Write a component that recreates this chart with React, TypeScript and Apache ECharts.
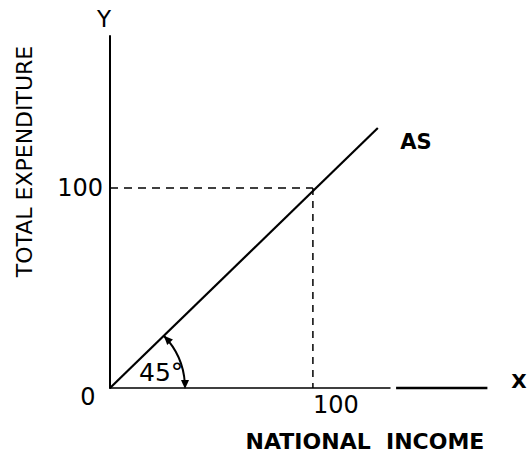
import React, { useEffect, useRef } from "react";
import * as echarts from "echarts";

// Data
const asLine: number[][] = [[0, 0], [132, 130]];
const hDashed: number[][] = [[0, 100], [100, 100]];
const vDashed: number[][] = [[100, 100], [100, 0]];
const xExtension: number[][] = [[141, 0], [186, 0]];
const xTickLabels = ["100"];
const yTickLabels = ["100"];
const xMax = 138;
const yMax = 176;

const FONT = "'DejaVu Sans', 'Liberation Sans', Arial, sans-serif";

export default function App() {
  const ref = useRef<HTMLDivElement>(null);
  useEffect(() => {
    if (!ref.current) return;
    const chart = echarts.init(ref.current, undefined, { renderer: "svg" });
    const asEnd = asLine[asLine.length - 1];
    chart.setOption({
      animation: false,
      backgroundColor: "#fff",
      grid: { left: 110, right: 138, top: 36, bottom: 66 },
      xAxis: {
        type: "value",
        min: 0,
        max: xMax,
        interval: 100,
        axisLine: { show: true, onZero: false, lineStyle: { color: "#000", width: 1.5 } },
        axisTick: { show: false },
        splitLine: { show: false },
        axisLabel: {
          formatter: (v: number) => (xTickLabels.includes(String(v)) ? String(v) : ""),
          align: "left",
          fontSize: 24,
          fontFamily: FONT,
          color: "#000",
          margin: 5,
          showMaxLabel: false,
        },
      },
      yAxis: {
        type: "value",
        min: 0,
        max: yMax,
        interval: 100,
        axisLine: { show: true, onZero: false, lineStyle: { color: "#000", width: 2 } },
        axisTick: { show: false },
        splitLine: { show: false },
        axisLabel: {
          formatter: (v: number) => (yTickLabels.includes(String(v)) ? String(v) : ""),
          fontSize: 24,
          fontFamily: FONT,
          color: "#000",
          margin: 7,
          showMaxLabel: false,
        },
      },
      series: [
        {
          type: "line",
          data: asLine,
          symbol: "none",
          lineStyle: { color: "#000", width: 2.2 },
        },
        {
          type: "line",
          data: hDashed,
          symbol: "none",
          lineStyle: { color: "#000", width: 1.5, type: [8, 6] },
        },
        {
          type: "line",
          data: vDashed,
          symbol: "none",
          lineStyle: { color: "#000", width: 1.5, type: [7, 6] },
        },
        {
          type: "custom",
          data: [xExtension[0]],
          clip: false,
          renderItem: (params: any, api: any) => {
            const a = api.coord(xExtension[0]);
            const b = api.coord(xExtension[1]);
            return {
              type: "line",
              shape: { x1: a[0], y1: a[1], x2: b[0], y2: b[1] },
              style: { stroke: "#000", lineWidth: 2.5 },
            };
          },
        },
        {
          type: "custom",
          data: [asLine[0]],
          clip: false,
          renderItem: (params: any, api: any) => {
            const o = api.coord(asLine[0]);
            const p = api.coord(asEnd);
            const ang = Math.atan2(p[1] - o[1], p[0] - o[0]);
            const r = 75;
            const lt = [o[0] + r, o[1] + 1];
            const ut = [o[0] + r * Math.cos(ang), o[1] + r * Math.sin(ang)];
            const d = [Math.sin(ang), -Math.cos(ang)];
            const n = [Math.cos(ang), Math.sin(ang)];
            const L = 9, W = 4;
            return {
              type: "group",
              children: [
                {
                  type: "arc",
                  shape: { cx: o[0], cy: o[1], r, startAngle: ang, endAngle: -0.06, clockwise: true },
                  style: { stroke: "#000", lineWidth: 2, fill: null },
                },
                {
                  type: "polygon",
                  shape: { points: [lt, [lt[0] - W, lt[1] - L], [lt[0] + W, lt[1] - L]] },
                  style: { fill: "#000" },
                },
                {
                  type: "polygon",
                  shape: {
                    points: [
                      ut,
                      [ut[0] - L * d[0] + W * n[0], ut[1] - L * d[1] + W * n[1]],
                      [ut[0] - L * d[0] - W * n[0], ut[1] - L * d[1] - W * n[1]],
                    ],
                  },
                  style: { fill: "#000" },
                },
              ],
            };
          },
        },
      ],
      graphic: [
        {
          type: "text",
          x: 104,
          y: 19,
          style: { text: "Y", fontSize: 23, fontFamily: FONT, fill: "#000", align: "center", verticalAlign: "middle" },
        },
        {
          type: "text",
          x: 519,
          y: 381,
          style: { text: "X", fontSize: 20, fontWeight: "bold", fontFamily: FONT, fill: "#000", align: "center", verticalAlign: "middle" },
        },
        {
          type: "text",
          x: 24.5,
          y: 161.5,
          rotation: Math.PI / 2,
          style: { text: "TOTAL EXPENDITURE", fontSize: 22, fontFamily: FONT, fill: "#000", align: "center", verticalAlign: "middle" },
        },
        {
          type: "text",
          x: 365,
          y: 441,
          style: { text: "NATIONAL  INCOME", fontSize: 22, fontWeight: "bold", fontFamily: FONT, fill: "#000", align: "center", verticalAlign: "middle" },
        },
        {
          type: "text",
          x: 416,
          y: 141.5,
          style: { text: "AS", fontSize: 21, fontWeight: "bold", fontFamily: FONT, fill: "#000", align: "center", verticalAlign: "middle" },
        },
        {
          type: "text",
          x: 139,
          y: 372,
          style: { text: "45°", fontSize: 25, fontFamily: FONT, fill: "#000", align: "left", verticalAlign: "middle" },
        },
        {
          type: "text",
          x: 88,
          y: 397,
          style: { text: "0", fontSize: 24, fontFamily: FONT, fill: "#000", align: "center", verticalAlign: "middle" },
        },
      ],
    });
    return () => chart.dispose();
  }, []);
  return (
    <div
      ref={ref}
      style={{ position: "fixed", left: 0, top: 0, width: 528, height: 454, background: "#fff" }}
    />
  );
}
